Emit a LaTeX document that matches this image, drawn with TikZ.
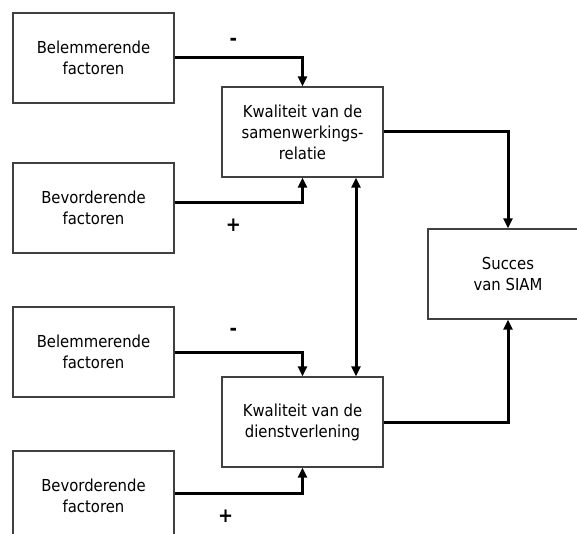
\documentclass[tikz,border=0pt]{standalone}
\usepackage{fontspec}
\setmainfont{DejaVu Sans Condensed}
\usepackage{tikz}
\usetikzlibrary{arrows.meta,positioning}
\definecolor{boxline}{HTML}{404040}

\begin{document}
\begin{tikzpicture}[x=1pt,y=-1pt,>={Triangle[width=9pt,length=10pt]},
    factor/.style={draw=boxline,line width=1.2pt,minimum width=161pt,minimum height=90pt,align=center,font=\fontsize{16.5}{21}\selectfont},
    link/.style={->,line width=3pt},
    sign/.style={font=\bfseries\fontsize{20}{20}\selectfont}]
        \clip (0,0) rectangle (577,534);
        \node[factor] (bel1) at (93.5,58) {Belemmerende\\factoren};
        \node[factor] (bev1) at (93.5,208) {Bevorderende\\factoren};
        \node[factor] (bel2) at (93.5,352) {Belemmerende\\factoren};
        \node[factor] (bev2) at (93.5,496) {Bevorderende\\factoren};
        \node[factor] (relatie) at (302.5,132) {Kwaliteit van de\\samenwerkings-\\relatie};
        \node[factor] (dienst) at (302.5,422) {Kwaliteit van de\\dienstverlening};
        \node[factor,minimum width=160pt] (succes) at (508,274) {Succes\\van SIAM};
        \draw[link] (bel1.east) -| node[sign,pos=0.23,above=8pt] (min1) {-} (relatie.north);
        \draw[link] ([yshift=5pt]bev1.east) -| node[sign,pos=0.23,below=11pt] (plus1) {+} (relatie.south);
        \draw[link] (bel2.east) -| node[sign,pos=0.23,above=12pt] (min2) {-} (dienst.north);
        \draw[link] ([yshift=3pt]bev2.east) -| node[sign,pos=0.2,below=12pt] (plus2) {+} (dienst.south);
        \draw[link,<->] ([xshift=53.5pt]relatie.south) -- ([xshift=53.5pt]dienst.north);
        \draw[link] (relatie.east) -| (succes.north);
        \draw[link] (dienst.east) -| (succes.south);
      \end{tikzpicture}
\end{document}
